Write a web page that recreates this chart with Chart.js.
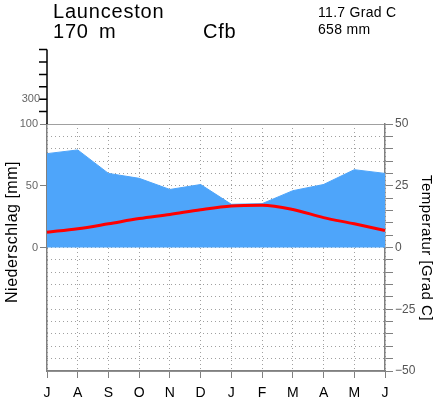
<!DOCTYPE html>
<html>
<head>
<meta charset="utf-8">
<script src="https://cdn.jsdelivr.net/npm/chart.js@4.4.1/dist/chart.umd.min.js"></script>
<style>
    html, body { margin: 0; padding: 0; background: #fff; }
    canvas { display: block; }
</style>
</head>
<body>
<canvas id="klimaChart" width="436" height="399"></canvas>
<script>
// Klimadiagramm Launceston (Juli bis Juni)
const monate = ['J', 'A', 'S', 'O', 'N', 'D', 'J', 'F', 'M', 'A', 'M', 'J'];
const niederschlag = [76, 79, 60, 56, 47, 51, 35, 35.5, 46, 51, 63, 60];
const temperatur = [6.2, 7.6, 9.6, 11.7, 13.4, 15.3, 16.8, 17.1, 15.4, 12.1, 9.6, 6.9];
const temperaturLabels = [50, 25, 0, -25, -50];
const niederschlagLabels = [100, 50, 0];
const niederschlagOben = [200, 300, 400, 500, 600, 700];
const niederschlagObenLabels = [300];

const station = 'Launceston';
const klimaklasse = 'Cfb';
const jahresTemp = '11.7 Grad C';
const jahresNieder = '658 mm';

const schrift = '"Liberation Sans", Arial, sans-serif';
const gitterFarbe = '#a0a0a0';
const achsenFarbe = '#808080';

const beschriftung = {
    id: 'beschriftung',
    afterDraw(chart) {
        const { ctx, chartArea } = chart;
        ctx.save();
        ctx.fillStyle = '#000';
        ctx.textBaseline = 'alphabetic';

        ctx.font = `20px ${schrift}`;
        ctx.letterSpacing = '0.8px';
        ctx.fillText(station, 53, 18);
        ctx.fillText('170', 53, 38);
        ctx.fillText('m', 99, 38);
        ctx.fillText(klimaklasse, 203, 38);

        ctx.font = `14px ${schrift}`;
        ctx.letterSpacing = '0.3px';
        ctx.fillText(jahresTemp, 318, 17);
        ctx.fillText(jahresNieder, 318, 34);

        // Achse oberhalb von 100 mm (gestauchter Bereich)
        const schritt = 12.4;
        const x = chartArea.left;
        const yPos = v => chartArea.top - (v - 100) / 100 * schritt;
        ctx.strokeStyle = '#000';
        ctx.lineWidth = 1.5;
        ctx.beginPath();
        ctx.moveTo(x, chartArea.top);
        ctx.lineTo(x, yPos(niederschlagOben[niederschlagOben.length - 1]));
        niederschlagOben.forEach(v => {
            ctx.moveTo(x, yPos(v));
            ctx.lineTo(x - 8, yPos(v));
        });
        ctx.stroke();
        ctx.font = `11px ${schrift}`;
        ctx.letterSpacing = '0px';
        ctx.fillStyle = '#666';
        ctx.textAlign = 'right';
        ctx.textBaseline = 'middle';
        niederschlagObenLabels.forEach(v => ctx.fillText(String(v), x - 7, yPos(v)));

        // Achsentitel
        ctx.fillStyle = '#000';
        ctx.textAlign = 'center';
        ctx.font = `16px ${schrift}`;
        ctx.letterSpacing = '0.5px';
        ctx.save();
        ctx.translate(13, 232);
        ctx.rotate(-Math.PI / 2);
        ctx.fillText('Niederschlag [mm]', 0, 0);
        ctx.restore();
        ctx.save();
        ctx.translate(426, 248);
        ctx.rotate(Math.PI / 2);
        ctx.font = `15px ${schrift}`;
        ctx.fillText('Temperatur [Grad C]', 0, 0);
        ctx.restore();
        ctx.restore();
    }
};

const gepunktet = ctx => {
    const v = ctx.tick ? ctx.tick.value : null;
    return (v === 50 || v === -50) ? [] : [1, 3];
};

new Chart(document.getElementById('klimaChart'), {
    type: 'line',
    data: {
        labels: monate,
        datasets: [
            {
                label: 'Temperatur',
                data: temperatur,
                yAxisID: 'y',
                borderColor: '#ff0000',
                borderWidth: 3,
                pointRadius: 0,
                cubicInterpolationMode: 'monotone',
                fill: false,
                order: 0,
            },
            {
                label: 'Niederschlag',
                data: niederschlag,
                yAxisID: 'y1',
                borderColor: '#4ea5fa',
                backgroundColor: '#4ea5fa',
                borderWidth: 1,
                pointRadius: 0,
                tension: 0,
                fill: 'origin',
                order: 1,
            },
        ],
    },
    options: {
        responsive: false,
        animation: false,
        layout: { padding: { top: 124, left: 0, right: 0, bottom: 0 } },
        plugins: { legend: { display: false }, tooltip: { enabled: false } },
        scales: {
            x: {
                type: 'category',
                offset: false,
                grid: {
                    offset: false,
                    color: gitterFarbe,
                    tickColor: achsenFarbe,
                    tickLength: 7,
                },
                border: { color: achsenFarbe, width: 1.5, dash: [1, 3] },
                ticks: {
                    color: '#000',
                    font: { family: schrift, size: 14 },
                    padding: 7,
                    maxRotation: 0,
                    autoSkip: false,
                },
                afterFit: scale => { scale.height = 28; },
            },
            y: {
                position: 'right',
                min: -50,
                max: 50,
                grid: {
                    color: gitterFarbe,
                    tickColor: achsenFarbe,
                    tickLength: 8,
                },
                border: { color: achsenFarbe, width: 1.5, dash: gepunktet },
                ticks: {
                    stepSize: 5,
                    maxTicksLimit: 30,
                    autoSkip: false,
                    color: '#555',
                    padding: 2,
                    font: { family: schrift, size: 12 },
                    callback: v => temperaturLabels.includes(v) ? String(v).replace('-', '\u2212') : '',
                },
                afterFit: scale => { scale.width = 51; },
            },
            y1: {
                position: 'left',
                min: -100,
                max: 100,
                grid: {
                    drawOnChartArea: false,
                    tickColor: ctx => ctx.tick && ctx.tick.value >= 0 ? achsenFarbe : 'rgba(0,0,0,0)',
                    tickLength: 7,
                },
                border: { color: achsenFarbe, width: 1.5 },
                ticks: {
                    stepSize: 50,
                    color: '#666',
                    padding: 2,
                    font: { family: schrift, size: 11 },
                    callback: v => niederschlagLabels.includes(v) ? String(v) : '',
                },
                afterFit: scale => { scale.width = 47; },
            },
        },
    },
    plugins: [beschriftung],
});
</script>
</body>
</html>
